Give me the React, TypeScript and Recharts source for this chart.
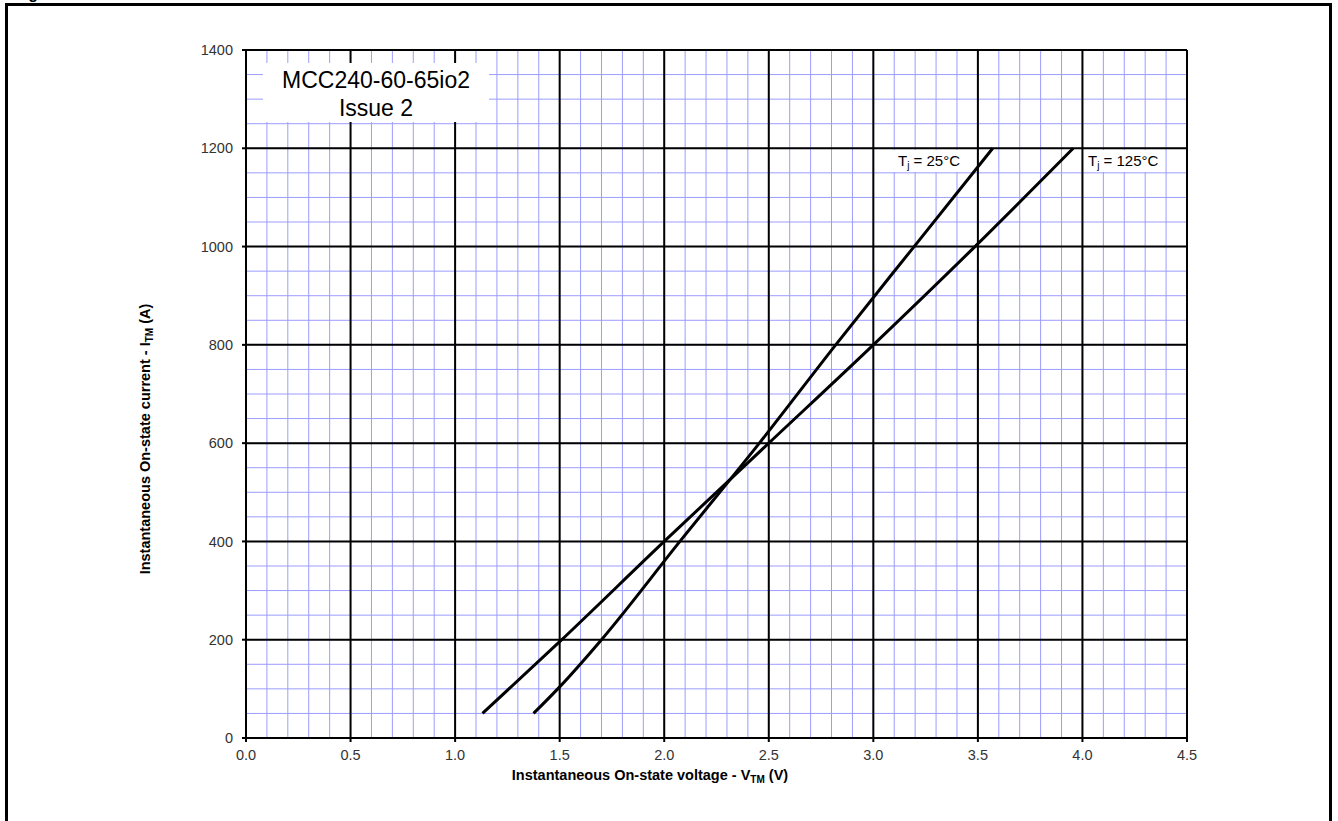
import { LineChart, Line, XAxis, YAxis, CartesianGrid, Label } from 'recharts';

// Tj = 25°C curve
const voltage25 = [1.375, 1.5, 1.7, 2.075, 2.455, 2.82, 3.195, 3.571];
const current25 = [50, 104, 200, 400, 600, 800, 1000, 1200];

// Tj = 125°C curve
const voltage125 = [1.131, 1.5, 2.0, 2.5, 3.0, 3.486, 3.956];
const current125 = [50, 196, 400, 600, 800, 1000, 1200];

const xTicks = [0, 0.5, 1.0, 1.5, 2.0, 2.5, 3.0, 3.5, 4.0, 4.5];
const yTicks = [0, 200, 400, 600, 800, 1000, 1200, 1400];

// minor grid every 0.1 V and 50 A
const xMinorValues = Array.from({ length: 46 }, (_, i) => +(i * 0.1).toFixed(1));
const yMinorValues = Array.from({ length: 29 }, (_, i) => i * 50);

const data25 = voltage25.map((v, i) => ({ v, i: current25[i] }));
const data125 = voltage125.map((v, i) => ({ v, i: current125[i] }));

const FONT = "'Liberation Sans', Arial, sans-serif";

const XTitle = () => (
  <text x={650} y={780} textAnchor="middle" fontFamily={FONT} fontSize={14.5} fontWeight="bold" fill="#000">
    Instantaneous On-state voltage - V
    <tspan fontSize={10} dy={3}>TM</tspan>
    <tspan dy={-3}> (V)</tspan>
  </text>
);

const YTitle = () => (
  <text
    x={150}
    y={439}
    transform="rotate(-90 150 439)"
    textAnchor="middle"
    fontFamily={FONT}
    fontSize={14.5}
    fontWeight="bold"
    fill="#000"
  >
    Instantaneous On-state current - I
    <tspan fontSize={10} dy={3}>TM</tspan>
    <tspan dy={-3}> (A)</tspan>
  </text>
);

const sub = { fontSize: 10, position: 'relative' as const, top: 3 };

export default function App() {
  return (
    <div
      style={{
        position: 'absolute',
        left: 0,
        top: 0,
        width: 1338,
        height: 821,
        overflow: 'hidden',
        background: '#fff',
        fontFamily: FONT,
      }}
    >
      <div style={{ position: 'absolute', left: 14, top: -14.5, fontSize: 16, lineHeight: '16px', fontWeight: 'bold' }}>
        Figure
      </div>
      <div
        style={{
          position: 'absolute',
          left: 5,
          top: 3,
          width: 1327,
          height: 900,
          border: '3px solid #000',
          boxSizing: 'border-box',
        }}
      />
      <div style={{ position: 'absolute', left: 0, top: 0 }}>
        <LineChart width={1338} height={821} margin={{ top: 50, right: 151, bottom: 53, left: 186 }}>
          <CartesianGrid
            stroke="#9c9cff"
            strokeWidth={1}
            verticalValues={xMinorValues}
            horizontalValues={yMinorValues}
          />
          <CartesianGrid stroke="#000" strokeWidth={2} />
          <XAxis
            dataKey="v"
            type="number"
            domain={[0, 4.5]}
            ticks={xTicks}
            interval={0}
            allowDataOverflow
            tickFormatter={(v: number) => v.toFixed(1)}
            axisLine={{ stroke: '#000', strokeWidth: 2 }}
            tickLine={{ stroke: '#000', strokeWidth: 2 }}
            tickSize={4}
            tickMargin={8}
            height={30}
            tick={{ fontSize: 14.5, fill: '#333', fontFamily: FONT }}
          >
            <Label content={<XTitle />} />
          </XAxis>
          <YAxis
            type="number"
            domain={[0, 1400]}
            ticks={yTicks}
            interval={0}
            allowDataOverflow
            axisLine={{ stroke: '#000', strokeWidth: 2 }}
            tickLine={{ stroke: '#000', strokeWidth: 2 }}
            tickSize={4}
            tickMargin={9}
            width={60}
            tick={{ fontSize: 14.5, fill: '#333', fontFamily: FONT }}
          >
            <Label content={<YTitle />} />
          </YAxis>
          <Line
            data={data25}
            dataKey="i"
            type="monotone"
            stroke="#000"
            strokeWidth={3}
            dot={false}
            isAnimationActive={false}
          />
          <Line
            data={data125}
            dataKey="i"
            type="monotone"
            stroke="#000"
            strokeWidth={3}
            dot={false}
            isAnimationActive={false}
          />
        </LineChart>
      </div>
      <div
        style={{
          position: 'absolute',
          left: 263,
          top: 63,
          width: 226,
          height: 59,
          background: '#fff',
          fontSize: 23,
          lineHeight: '27.5px',
          textAlign: 'center',
          paddingTop: 4.3,
          boxSizing: 'border-box',
          color: '#000',
        }}
      >
        <div>MCC240-60-65io2</div>
        <div>Issue 2</div>
      </div>
      <div
        style={{
          position: 'absolute',
          left: 893,
          top: 150,
          width: 74,
          height: 22,
          background: '#fff',
          fontSize: 15,
          lineHeight: '15px',
          paddingTop: 3.3,
          paddingLeft: 5,
          boxSizing: 'border-box',
          whiteSpace: 'nowrap',
        }}
      >
        T<span style={sub}>j</span> = 25°C
      </div>
      <div
        style={{
          position: 'absolute',
          left: 1085,
          top: 150,
          width: 78,
          height: 22,
          background: '#fff',
          fontSize: 15,
          lineHeight: '15px',
          paddingTop: 3.3,
          paddingLeft: 3,
          boxSizing: 'border-box',
          whiteSpace: 'nowrap',
        }}
      >
        T<span style={sub}>j</span> = 125°C
      </div>
    </div>
  );
}
